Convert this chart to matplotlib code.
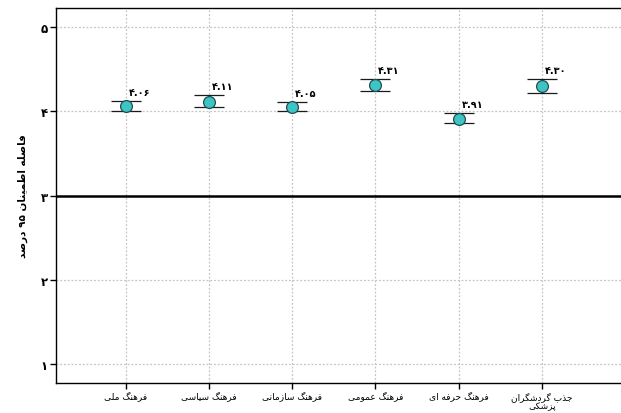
import matplotlib
matplotlib.use("Agg")
import matplotlib.pyplot as plt

# --------------------------------------------------------------------------- #
# Data.
# --------------------------------------------------------------------------- #
categories = [
    "فرهنگ ملی",
    "فرهنگ سیاسی",
    "فرهنگ سازمانی",
    "فرهنگ عمومی",
    "فرهنگ حرفه ای",
    "جذب گردشگران\nپزشکی",
]
means = [4.06, 4.11, 4.05, 4.31, 3.91, 4.30]
lower = [4.00, 4.05, 4.00, 4.24, 3.86, 4.22]
upper = [4.12, 4.19, 4.11, 4.38, 3.98, 4.38]
mean_labels = ["۴.۰۶", "۴.۱۱", "۴.۰۵", "۴.۳۱", "۳.۹۱", "۴.۳۰"]
y_ticks = [1, 2, 3, 4, 5]
y_ticklabels = ["۱", "۲", "۳", "۴", "۵"]
y_label = "فاصله اطمینان ۹۵ درصد"
ref_value = 3

# --------------------------------------------------------------------------- #
# Minimal Arabic/Persian shaping (no arabic_reshaper / bidi available).
# forms: isolated, final, initial, medial
# --------------------------------------------------------------------------- #
_FORMS = {
    "ا": ("\uFE8D", "\uFE8E", None, None),
    "د": ("\uFEA9", "\uFEAA", None, None),
    "ذ": ("\uFEAB", "\uFEAC", None, None),
    "ر": ("\uFEAD", "\uFEAE", None, None),
    "ز": ("\uFEAF", "\uFEB0", None, None),
    "و": ("\uFEED", "\uFEEE", None, None),
    "ب": ("\uFE8F", "\uFE90", "\uFE91", "\uFE92"),
    "پ": ("\uFB56", "\uFB57", "\uFB58", "\uFB59"),
    "ج": ("\uFE9D", "\uFE9E", "\uFE9F", "\uFEA0"),
    "ح": ("\uFEA1", "\uFEA2", "\uFEA3", "\uFEA4"),
    "س": ("\uFEB1", "\uFEB2", "\uFEB3", "\uFEB4"),
    "ش": ("\uFEB5", "\uFEB6", "\uFEB7", "\uFEB8"),
    "ص": ("\uFEB9", "\uFEBA", "\uFEBB", "\uFEBC"),
    "ط": ("\uFEC1", "\uFEC2", "\uFEC3", "\uFEC4"),
    "ع": ("\uFEC9", "\uFECA", "\uFECB", "\uFECC"),
    "ف": ("\uFED1", "\uFED2", "\uFED3", "\uFED4"),
    "ک": ("\uFB8E", "\uFB8F", "\uFB90", "\uFB91"),
    "گ": ("\uFB92", "\uFB93", "\uFB94", "\uFB95"),
    "ل": ("\uFEDD", "\uFEDE", "\uFEDF", "\uFEE0"),
    "م": ("\uFEE1", "\uFEE2", "\uFEE3", "\uFEE4"),
    "ن": ("\uFEE5", "\uFEE6", "\uFEE7", "\uFEE8"),
    "ه": ("\uFEE9", "\uFEEA", "\uFEEB", "\uFEEC"),
    "ی": ("\uFBFC", "\uFBFD", "\uFBFE", "\uFBFF"),
}


def _shape_word(word):
    out = []
    for i, ch in enumerate(word):
        if ch not in _FORMS:
            out.append(ch)
            continue
        iso, fin, ini, med = _FORMS[ch]
        prev = word[i - 1] if i > 0 else ""
        nxt = word[i + 1] if i + 1 < len(word) else ""
        join_prev = prev in _FORMS and _FORMS[prev][2] is not None
        join_next = ini is not None and nxt in _FORMS
        if join_prev and join_next:
            out.append(med)
        elif join_prev:
            out.append(fin)
        elif join_next:
            out.append(ini)
        else:
            out.append(iso)
    return out


def fa(text):
    """Shape a Persian string and put it in left-to-right visual order."""
    lines = []
    for line in text.split("\n"):
        runs = []
        for word in line.split(" "):
            if all(c in "۰۱۲۳۴۵۶۷۸۹." for c in word):
                runs.append(word)
            else:
                runs.append("".join(reversed(_shape_word(word))))
        lines.append(" ".join(reversed(runs)))
    return "\n".join(lines)


# --------------------------------------------------------------------------- #
# Figure.
# --------------------------------------------------------------------------- #
plt.rcParams["font.family"] = ["DejaVu Sans"]

fig = plt.figure(figsize=(6.21, 4.14), dpi=100)
ax = fig.add_axes([0.090, 0.0725, 0.91, 0.9055])

x = list(range(1, len(categories) + 1))
yerr = [[m - lo for m, lo in zip(means, lower)],
        [hi - m for m, hi in zip(means, upper)]]

ax.axhline(ref_value, color="black", lw=1.8, zorder=2)
ax.errorbar(x, means, yerr=yerr, fmt="o", color="black", ecolor="#1a1a1a",
            elinewidth=1.4, capsize=11, capthick=2.0,
            markersize=8.5, markerfacecolor="#3fc4c4",
            markeredgecolor="#1f4f55", markeredgewidth=0.9, zorder=3)

for xi, hi, lab in zip(x, upper, mean_labels):
    ax.annotate(lab, (xi, hi), xytext=(2, 3), textcoords="offset points",
                ha="left", va="bottom", fontsize=7, fontweight="bold")

ax.set_xlim(0.16, 6.95)
ax.set_ylim(0.78, 5.22)
ax.set_xticks(x)
ax.set_xticklabels([fa(c) for c in categories], fontsize=6.5,
                   linespacing=1.0)
ax.set_yticks(y_ticks)
ax.set_yticklabels(y_ticklabels, fontsize=8.5, fontweight="bold")
ax.set_ylabel(fa(y_label), fontsize=7.5, fontweight="bold", labelpad=9)

ax.grid(True, color="#c4c4c4", linestyle=(0, (1.5, 1.5)), linewidth=0.9,
        zorder=0)
ax.set_axisbelow(True)
ax.tick_params(axis="both", direction="out", length=4, width=1,
               color="black", pad=2)
for side in ("left", "top", "bottom"):
    ax.spines[side].set_linewidth(1.0)
ax.spines["right"].set_visible(False)

fig.savefig("out.png", dpi=100)
